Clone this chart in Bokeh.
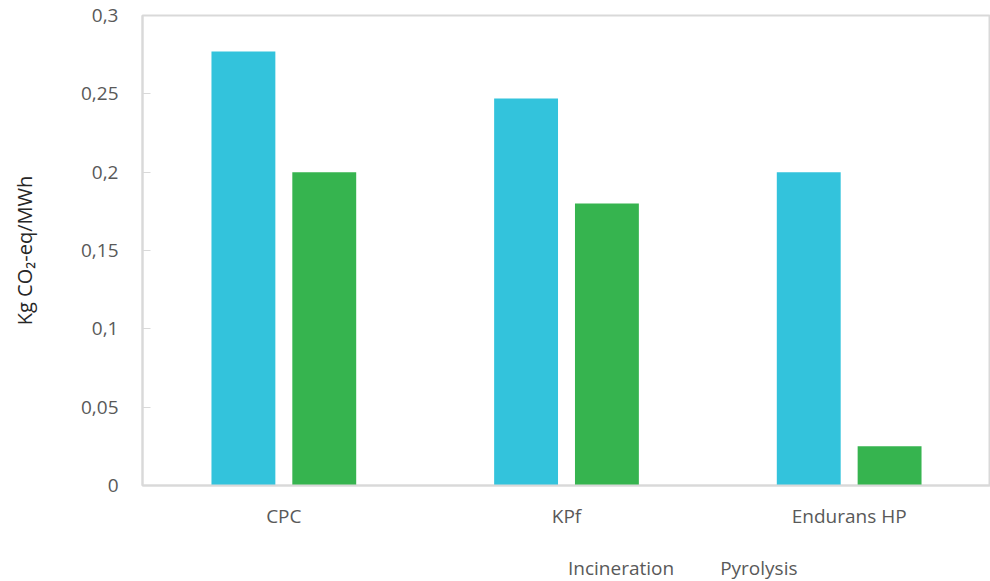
from bokeh.plotting import figure
from bokeh.layouts import column
from bokeh.models import ColumnDataSource, FactorRange, FixedTicker, Legend, LegendItem
from bokeh.transform import dodge
from bokeh.embed import file_html
from bokeh.resources import INLINE

categories = ["CPC", "KPf", "Endurans HP"]
incineration = [0.277, 0.247, 0.200]
pyrolysis = [0.200, 0.180, 0.025]
y_ticks = [0, 0.05, 0.1, 0.15, 0.2, 0.25, 0.3]
y_tick_labels = ["0", "0,05", "0,1", "0,15", "0,2", "0,25", "0,3"]
series_names = ["Incineration", "Pyrolysis"]
colors = ["#33C3DC", "#36B44F"]

src = ColumnDataSource(dict(cat=categories, inc=incineration, pyr=pyrolysis))

p = figure(x_range=FactorRange(*categories, range_padding=0), y_range=(0, 0.3),
           width=990, height=531, output_backend="svg", toolbar_location=None,
           min_border_left=142, min_border_top=15, min_border_right=0, min_border_bottom=37)

p.vbar(x=dodge("cat", -0.143, range=p.x_range), top="inc", width=0.226, source=src,
       fill_color=colors[0], line_color=None)
p.vbar(x=dodge("cat", 0.143, range=p.x_range), top="pyr", width=0.226, source=src,
       fill_color=colors[1], line_color=None)

p.xgrid.grid_line_color = None
p.ygrid.grid_line_color = None
p.outline_line_color = "#D9D9D9"
p.outline_line_width = 2
p.background_fill_color = "white"
p.border_fill_color = "white"

p.yaxis.ticker = FixedTicker(ticks=y_ticks)
p.yaxis.major_label_overrides = {t: l for t, l in zip(y_ticks, y_tick_labels)}
p.yaxis.minor_tick_line_color = None
p.yaxis.major_tick_in = 8
p.yaxis.major_tick_out = 0
p.yaxis.major_tick_line_color = "#D9D9D9"
p.yaxis.axis_line_color = "#D9D9D9"
p.yaxis.axis_line_width = 2
p.yaxis.major_label_standoff = 24
p.yaxis.major_label_text_font = "Open Sans"
p.yaxis.major_label_text_font_size = "19px"
p.yaxis.major_label_text_color = "#595959"
p.yaxis.axis_label = "Kg CO\u2082-eq/MWh"
p.yaxis.axis_label_text_font = "Open Sans"
p.yaxis.axis_label_text_font_size = "20px"
p.yaxis.axis_label_text_font_style = "normal"
p.yaxis.axis_label_text_color = "#262626"
p.yaxis.axis_label_standoff = 40

p.xaxis.major_tick_line_color = None
p.xaxis.axis_line_color = "#D9D9D9"
p.xaxis.axis_line_width = 2
p.xaxis.major_label_standoff = 11
p.xaxis.major_label_text_font = "Open Sans"
p.xaxis.major_label_text_font_size = "19px"
p.xaxis.major_label_text_color = "#595959"

# legend strip below the chart
leg = figure(width=990, height=50, x_range=(0, 1), y_range=(0, 1),
             x_axis_type=None, y_axis_type=None, output_backend="svg",
             toolbar_location=None, min_border=0)
leg.outline_line_color = None
leg.xgrid.grid_line_color = None
leg.ygrid.grid_line_color = None
leg.border_fill_color = "white"
lr1 = leg.vbar(x=[], top=[], width=0.1, fill_color=colors[0], line_color=None)
lr2 = leg.vbar(x=[], top=[], width=0.1, fill_color=colors[1], line_color=None)

legend = Legend(items=[LegendItem(label=series_names[0], renderers=[lr1]),
                       LegendItem(label=series_names[1], renderers=[lr2])],
                orientation="horizontal", location=(405, 0),
                glyph_width=13, glyph_height=13, label_standoff=8, spacing=25,
                label_text_font="Open Sans", label_text_font_size="19px",
                label_text_color="#595959", border_line_color=None,
                background_fill_alpha=0, padding=0, margin=0)
leg.add_layout(legend, "center")

layout = column(p, leg, spacing=0)
open("out.html", "w").write(file_html(layout, INLINE))
